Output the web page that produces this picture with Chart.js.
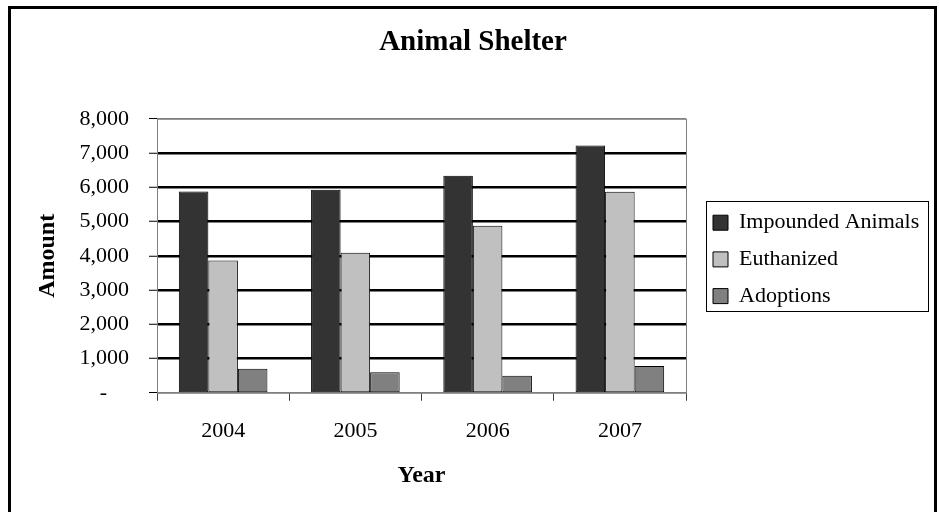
<!DOCTYPE html>
<html>
<head>
<meta charset="utf-8">
<script src="https://cdn.jsdelivr.net/npm/chart.js@4"></script>
<style>
  html, body { margin: 0; padding: 0; background: #fff; }
  canvas { display: block; }
</style>
</head>
<body>
<canvas id="refugio" width="939" height="512"></canvas>
<script>
// datos
const years = ['2004', '2005', '2006', '2007'];
const impounded = [5880, 5930, 6340, 7220];
const euthanized = [3860, 4090, 4880, 5870];
const adoptions = [700, 600, 500, 780];
const yTicks = [0, 1000, 2000, 3000, 4000, 5000, 6000, 7000, 8000];

Chart.defaults.font.family = "'Liberation Serif', 'Times New Roman', serif";
Chart.defaults.color = '#000';

// marco exterior negro (el borde inferior queda fuera del lienzo)
const marco = {
    id: 'marco',
    beforeDraw(chart) {
        const ctx = chart.ctx;
        ctx.save();
        ctx.fillStyle = '#fff';
        ctx.fillRect(0, 0, chart.width, chart.height);
        ctx.strokeStyle = '#000';
        ctx.lineWidth = 3;
        ctx.strokeRect(9.5, 7.5, 926, 600);
        ctx.restore();
    },
    beforeDatasetsDraw(chart) {
        const a = chart.chartArea;
        const ctx = chart.ctx;
        ctx.save();
        ctx.strokeStyle = '#808080';
        ctx.lineWidth = 1;
        ctx.strokeRect(a.left + 0.5, a.top + 0.5, a.right - a.left, a.bottom - a.top);
        ctx.restore();
    }
};

// leyenda a la derecha con separacion y recuadro
const leyenda = {
    id: 'leyenda',
    beforeLayout(chart) {
        const lg = chart.legend;
        if (lg && !lg._parcheado) {
            const fit = lg.fit;
            lg.fit = function () {
                fit.call(this);
                this.width = 250; // deja el area de trazado terminando en x=686
            };
            lg._parcheado = true;
        }
    },
    afterLayout(chart) {
        const lg = chart.legend;
        lg.left = chart.chartArea.right + 12.3;
        lg.top += 3.4;
        lg.bottom += 3.4;
    },
    afterDraw(chart) {
        const lg = chart.legend;
        const pad = lg.options.labels.padding;
        const x0 = lg.left + pad;
        const y0 = (lg.top + pad + lg.bottom - lg.columnSizes[0].height) / 2;
        const ctx = chart.ctx;
        ctx.save();
        ctx.strokeStyle = '#000';
        ctx.lineWidth = 1;
        ctx.strokeRect(Math.round(x0 - 7) + 0.5, Math.round(y0 - 10.7) + 0.5, 222, 110);
        ctx.restore();
    }
};

new Chart(document.getElementById('refugio'), {
    type: 'bar',
    data: {
        labels: years,
        datasets: [
            { label: 'Impounded Animals', data: impounded, backgroundColor: '#333333' },
            { label: 'Euthanized', data: euthanized, backgroundColor: '#c0c0c0' },
            { label: 'Adoptions', data: adoptions, backgroundColor: '#808080' }
        ]
    },
    options: {
        responsive: false,
        animation: false,
        layout: { padding: { top: 20, left: 10, right: 3, bottom: 20 } },
        datasets: {
            bar: {
                borderColor: '#000',
                borderWidth: 1,
                borderSkipped: false,
                categoryPercentage: 0.67,
                barPercentage: 1
            }
        },
        plugins: {
            title: {
                display: true,
                text: 'Animal Shelter',
                color: '#000',
                font: { size: 29, weight: 'bold' },
                padding: { top: 5, bottom: 59 }
            },
            legend: {
                display: true,
                position: 'right',
                labels: {
                    boxWidth: 15,
                    boxHeight: 15,
                    padding: 14.7,
                    color: '#000',
                    font: { size: 22 }
                }
            },
            tooltip: { enabled: false }
        },
        scales: {
            x: {
                grid: {
                    offset: true,
                    drawOnChartArea: false,
                    drawTicks: true,
                    tickLength: 8,
                    tickColor: '#404040',
                    tickWidth: 1
                },
                border: { color: '#808080', width: 1 },
                ticks: { font: { size: 22 }, padding: 17, color: '#000' },
                title: {
                    display: true,
                    text: 'Year',
                    color: '#000',
                    font: { size: 24, weight: 'bold', lineHeight: 1.2 },
                    padding: { top: 0, bottom: 2 }
                }
            },
            y: {
                min: 0,
                max: 8000,
                afterBuildTicks(scale) {
                    scale.ticks = yTicks.map(v => ({ value: v }));
                },
                grid: {
                    color: ctx => (ctx.tick && (ctx.tick.value === 0 || ctx.tick.value === 8000)) ? '#808080' : '#000',
                    lineWidth: ctx => (ctx.tick && (ctx.tick.value === 0 || ctx.tick.value === 8000)) ? 1 : 2.5,
                    tickLength: 8,
                    tickColor: '#000',
                    tickWidth: 1
                },
                border: { color: '#808080', width: 1 },
                ticks: {
                    font: { size: 22 },
                    padding: 20,
                    color: '#000',
                    callback: v => v === 0 ? '-\u00a0\u00a0\u00a0\u00a0' : v.toLocaleString('en-US')
                },
                title: {
                    display: true,
                    text: 'Amount',
                    color: '#000',
                    font: { size: 24, weight: 'bold', lineHeight: 1 },
                    padding: { top: 25.5, bottom: 0 }
                }
            }
        }
    },
    plugins: [marco, leyenda]
});
</script>
</body>
</html>
